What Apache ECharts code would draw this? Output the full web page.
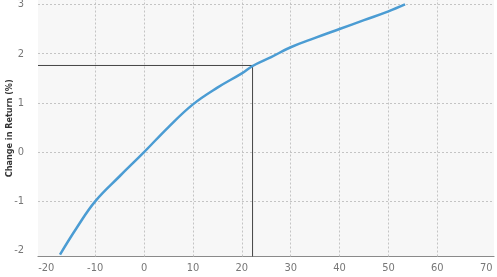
<!DOCTYPE html>
<html>
<head>
<meta charset="utf-8">
<script src="https://cdn.jsdelivr.net/npm/echarts@6/dist/echarts.min.js"></script>
<style>
    html, body { margin: 0; padding: 0; background: #fff; }
    #chart { width: 497px; height: 277px; }
</style>
</head>
<body>
<div id="chart"></div>
<script>
// 曲线数据
const curveX = [-17.2, -13.8, -10, -5, 0, 5, 10, 15, 20, 22.2, 26, 30, 35, 40, 45, 50, 53.4]
const curveY = [-2.08, -1.54, -1, -0.49, 0, 0.51, 0.97, 1.31, 1.6, 1.75, 1.93, 2.13, 2.32, 2.5, 2.68, 2.86, 3.0]
// 参考点
const markX = 22.2
const markY = 1.76
// 刻度
const xLabels = [-20, -10, 0, 10, 20, 30, 40, 50, 60, 70]
const xGrid = [-10, 0, 10, 20, 30, 40, 50, 60]
const yLabels = [-2, -1, 0, 1, 2, 3]
const yGrid = [-1, 0, 1, 2, 3]
const xMin = -21.7, xMax = 71.6
const yMin = -2.12, yMax = 3.09

const font = "'Liberation Sans Narrow', 'DejaVu Sans Condensed', sans-serif"
const gridStyle = { color: '#c4c4c4', type: [2, 2], width: 1 }

// 网格线用 markLine 画
const gridLines = xGrid.map(v => ({ xAxis: v })).concat(yGrid.map(v => ({ yAxis: v })))

const cs = echarts.init(document.getElementById('chart'))
const option = {
    animation: false,
    grid: {
        left: 38,
        right: 3,
        top: 0,
        bottom: 20.5,
        show: true,
        borderWidth: 0,
        backgroundColor: '#f7f7f7',
        containLabel: false,
        outerBoundsMode: 'none'
    },
    xAxis: {
        type: 'value',
        min: xMin,
        max: xMax,
        axisLine: { show: true, onZero: false, lineStyle: { color: '#8a8a8a', width: 1.2 } },
        axisTick: { show: false },
        axisLabel: {
            customValues: xLabels,
            color: '#777',
            fontSize: 11,
            fontFamily: font,
            margin: 6
        },
        splitLine: { show: false }
    },
    yAxis: {
        type: 'value',
        min: yMin,
        max: yMax,
        name: 'Change in Return (%)',
        nameLocation: 'middle',
        nameGap: 24,
        nameMoveOverlap: false,
        nameTextStyle: { color: '#333', fontSize: 9, fontWeight: 'bold', fontFamily: font },
        axisLine: { show: false },
        axisTick: { show: false },
        axisLabel: {
            customValues: yLabels,
            color: '#777',
            fontSize: 11,
            fontFamily: font,
            margin: 14
        },
        splitLine: { show: false }
    },
    series: [
        {
            type: 'line',
            data: curveX.map((x, i) => [x, curveY[i]]),
            smooth: 0.4,
            showSymbol: false,
            lineStyle: { color: '#4b9cd3', width: 2.5 },
            z: 3
        },
        {
            type: 'line',
            data: [[xMin, markY], [markX, markY], [markX, yMin]],
            showSymbol: false,
            lineStyle: { color: '#444', width: 1 },
            z: 2,
            markLine: {
                silent: true,
                symbol: 'none',
                label: { show: false },
                lineStyle: gridStyle,
                z: 1,
                data: gridLines
            }
        }
    ]
}
cs.setOption(option)
</script>
</body>
</html>
